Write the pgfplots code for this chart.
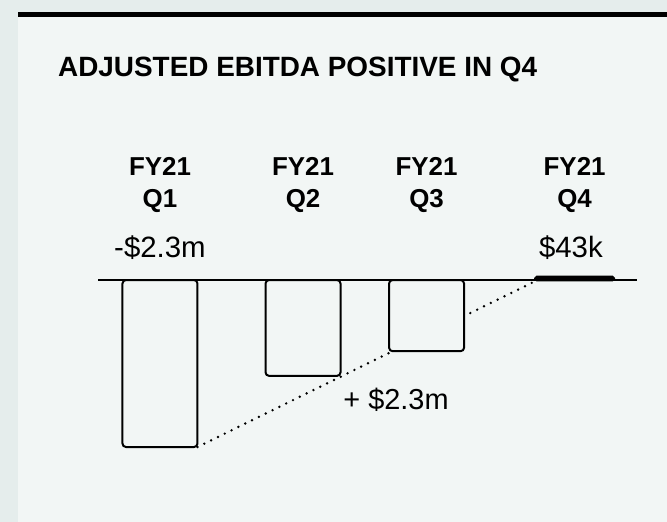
\documentclass[border=0pt]{standalone}
\usepackage{pgfplots}
\pgfplotsset{compat=1.18}
\usepackage{fontspec}
\setmainfont{Liberation Sans}
\definecolor{outerbg}{RGB}{229,237,236}
\definecolor{panel}{RGB}{242,246,245}
\begin{document}
\begin{tikzpicture}[x=1bp,y=1bp]
\useasboundingbox (0,0) rectangle (667,522);
\fill[outerbg] (0,0) rectangle (667,522);
\fill[panel] (18,0) rectangle (667,510);
\fill[black] (18,505) rectangle (667,510);
\node[anchor=base west, inner sep=0pt, font=\bfseries\fontsize{28}{33}\selectfont] at (58,445) {ADJUSTED EBITDA POSITIVE IN Q4};
\begin{axis}[
  at={(98bp,53.2bp)}, anchor=south west, scale only axis,
  width=539bp, height=254.1bp,
  xmin=-0.448, xmax=3.448, ymin=-2.6, ymax=0.9,
  axis line style={draw=none}, major tick length=0pt, ytick=\empty,
  xtick={0,1.034,1.927,2.997},
  xticklabels={{FY21\\Q1},{FY21\\Q2},{FY21\\Q3},{FY21\\Q4}},
  xticklabel pos=upper,
  xticklabel style={align=center, font=\bfseries\fontsize{26}{32}\selectfont, inner sep=0pt, anchor=south, yshift=2bp},
  clip=false,
]
\addplot[black, line width=2.7bp, line cap=round, dash pattern=on 0bp off 7.6bp] coordinates {(0.271,-2.3) (2.729,0)};
\addplot[ybar, bar width=0.542, bar shift=0pt, fill=panel, draw=black, line width=2bp, rounded corners=3.5bp] coordinates {(0,-2.3) (1.034,-1.32) (1.927,-0.98)};
\addplot[ybar, bar width=0.565, bar shift=0pt, fill=black, draw=black, line width=2.6bp, rounded corners=1.5bp] coordinates {(2.997,0.043)};
\draw[line width=2bp] (axis cs:-0.448,0) -- (axis cs:3.448,0);
\node[anchor=base, font=\fontsize{29.5}{34}\selectfont] at (axis cs:0,0) [yshift=23bp] {-\$2.3m};
\node[anchor=base, font=\fontsize{29.5}{34}\selectfont] at (axis cs:2.97,0) [yshift=23bp] {\$43k};
\node[anchor=base, font=\fontsize{29}{34}\selectfont] at (axis cs:1.706,-1.79) {+ \$2.3m};
\end{axis}
\end{tikzpicture}
\end{document}
